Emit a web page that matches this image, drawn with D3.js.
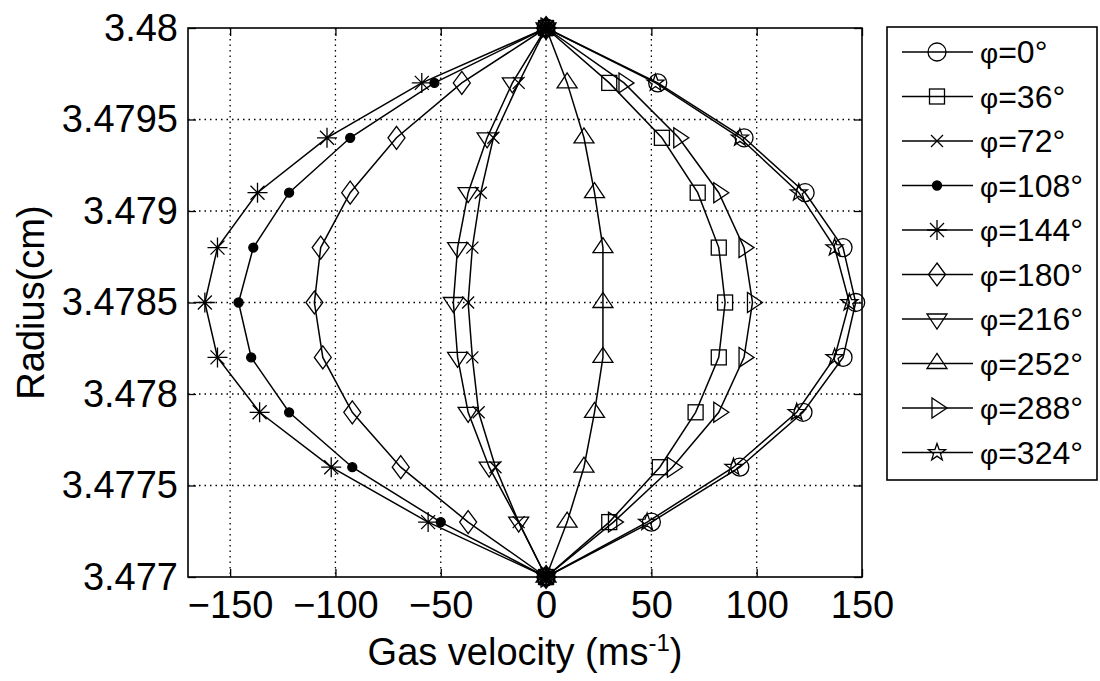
<!DOCTYPE html>
<html>
<head>
<meta charset="utf-8">
<script src="https://cdn.jsdelivr.net/npm/d3@7"></script>
<style>
  body { margin: 0; background: #fff; }
  text { font-family: "Liberation Sans", Arial, sans-serif; fill: #000; }
</style>
</head>
<body>
<div id="chart"></div>
<script>
const WIDTH = 1100;
const HEIGHT = 681;

// radios donde se midio la velocidad (de abajo hacia arriba)
const radius = [3.477, 3.4773, 3.4776, 3.4779, 3.4782, 3.4785, 3.4788, 3.4791, 3.4794, 3.4797, 3.48];

const angles = ["0", "36", "72", "108", "144", "180", "216", "252", "288", "324"];
const markers = ["circle", "square", "x", "dot", "asterisk", "diamond", "down", "up", "right", "star"];

const v0   = [0, 50, 92, 122, 141, 147, 141, 123, 94, 53, 0];
const v36  = [0, 30, 54, 71, 82, 85, 82, 72, 55, 30, 0];
const v72  = [0, -13, -24, -32, -35, -37, -35, -31, -25, -13, 0];
const v108 = [0, -50, -92, -122, -140, -146, -139, -122, -93, -53, 0];
const v144 = [0, -56, -102, -136, -156, -162, -156, -137, -104, -59, 0];
const v180 = [0, -37, -69, -92, -106, -110, -107, -93, -71, -40, 0];
const v216 = [0, -13, -27, -37, -42, -44, -42, -37, -28, -16, 0];
const v252 = [0, 10, 18, 23, 27, 27, 27, 23, 18, 10, 0];
const v288 = [0, 32, 60, 82, 94, 98, 94, 82, 63, 37, 0];
const v324 = [0, 48, 89, 119, 137, 144, 137, 120, 92, 52, 0];

const series = [v0, v36, v72, v108, v144, v180, v216, v252, v288, v324];

const xTicks = [-150, -100, -50, 0, 50, 100, 150];
const yTicks = [3.477, 3.4775, 3.478, 3.4785, 3.479, 3.4795, 3.48];
const yTickLabels = ["3.477", "3.4775", "3.478", "3.4785", "3.479", "3.4795", "3.48"];

const pLeft = 188, pRight = 862, pTop = 28, pBottom = 577;

const svg = d3.select("#chart")
    .append("svg")
    .attr("width", WIDTH)
    .attr("height", HEIGHT);

const x = d3.scaleLinear().domain([-170, 150]).range([pLeft, pRight]);
const y = d3.scaleLinear().domain([3.477, 3.48]).range([pBottom, pTop]);

// grilla punteada
const grid = svg.append("g")
    .attr("stroke", "#000")
    .attr("stroke-width", 1.3)
    .attr("stroke-dasharray", "1.5,4");

grid.selectAll(".gx")
    .data(xTicks.filter(d => x(d) < pRight - 1))
    .enter().append("line")
    .attr("x1", d => x(d)).attr("x2", d => x(d))
    .attr("y1", pTop).attr("y2", pBottom);

grid.selectAll(".gy")
    .data(yTicks.filter(d => y(d) > pTop + 1 && y(d) < pBottom - 1))
    .enter().append("line")
    .attr("x1", pLeft).attr("x2", pRight)
    .attr("y1", d => y(d)).attr("y2", d => y(d));

// ejes con ticks hacia adentro
const xAxis = svg.append("g")
    .attr("transform", `translate(0,${pBottom})`)
    .call(d3.axisBottom(x).tickValues(xTicks).tickSizeInner(-8).tickSizeOuter(0).tickPadding(12));

const yAxis = svg.append("g")
    .attr("transform", `translate(${pLeft},0)`)
    .call(d3.axisLeft(y).tickValues(yTicks)
        .tickFormat((d, i) => yTickLabels[i])
        .tickSizeInner(-8).tickSizeOuter(0).tickPadding(10));

svg.append("g")
    .attr("transform", `translate(0,${pTop})`)
    .call(d3.axisTop(x).tickValues(xTicks).tickSizeInner(-8).tickSizeOuter(0).tickFormat(""));

svg.append("g")
    .attr("transform", `translate(${pRight},0)`)
    .call(d3.axisRight(y).tickValues(yTicks).tickSizeInner(-8).tickSizeOuter(0).tickFormat(""));

svg.selectAll(".domain").remove();
svg.selectAll(".tick line").attr("stroke", "#000").attr("stroke-width", 1.3);
svg.selectAll(".tick text")
    .style("font-size", "38px")
    .attr("fill", "#000");
xAxis.selectAll(".tick text").attr("dy", "0.75em");

svg.append("rect")
    .attr("x", pLeft).attr("y", pTop)
    .attr("width", pRight - pLeft).attr("height", pBottom - pTop)
    .attr("fill", "none")
    .attr("stroke", "#000")
    .attr("stroke-width", 1.6);

// dibuja un marcador estilo matlab
function drawMarker(g, type, cx, cy) {
    const m = g.append("g").attr("transform", `translate(${cx},${cy})`)
        .attr("fill", "none").attr("stroke", "#000").attr("stroke-width", 1.3);
    if (type === "circle") {
        m.append("circle").attr("r", 9);
    } else if (type === "square") {
        m.append("rect").attr("x", -7.5).attr("y", -7.5).attr("width", 15).attr("height", 15);
    } else if (type === "x") {
        m.append("path").attr("d", "M-6,-6L6,6M-6,6L6,-6");
    } else if (type === "dot") {
        m.append("circle").attr("r", 4.5).attr("fill", "#000");
    } else if (type === "asterisk") {
        m.append("path").attr("d", "M-10,0L10,0M0,-10L0,10M-7,-7L7,7M-7,7L7,-7");
    } else if (type === "diamond") {
        m.append("path").attr("d", "M0,-11.5L8.5,0L0,11.5L-8.5,0Z");
    } else if (type === "down") {
        m.append("path").attr("d", "M-10,-5L10,-5L0,10Z");
    } else if (type === "up") {
        m.append("path").attr("d", "M-10,5L10,5L0,-10Z");
    } else if (type === "right") {
        m.append("path").attr("d", "M-5,-10L-5,10L10,0Z");
    } else if (type === "star") {
        const pts = [];
        for (let k = 0; k < 10; k++) {
            const r = k % 2 === 0 ? 9 : 3.6;
            const a = -Math.PI / 2 + k * Math.PI / 5;
            pts.push([r * Math.cos(a), r * Math.sin(a)]);
        }
        m.append("path").attr("d", "M" + pts.map(p => p.join(",")).join("L") + "Z");
    }
}

const line = d3.line()
    .x(d => x(d[0]))
    .y(d => y(d[1]));

const plot = svg.append("g");

series.forEach(function(vals, i) {
    const pts = vals.map((v, j) => [v, radius[j]]);
    const g = plot.append("g");
    g.append("path")
        .datum(pts)
        .attr("d", line)
        .attr("fill", "none")
        .attr("stroke", "#000")
        .attr("stroke-width", 1.5);
    pts.forEach(p => drawMarker(g, markers[i], x(p[0]), y(p[1])));
});

// leyenda
const legX = 887, legY = 27, legW = 210, legH = 453;
const legend = svg.append("g");
legend.append("rect")
    .attr("x", legX).attr("y", legY)
    .attr("width", legW).attr("height", legH)
    .attr("fill", "#fff")
    .attr("stroke", "#000")
    .attr("stroke-width", 1.6);

angles.forEach(function(a, i) {
    const ly = 52 + i * 44.5;
    legend.append("line")
        .attr("x1", 902).attr("x2", 973)
        .attr("y1", ly).attr("y2", ly)
        .attr("stroke", "#000").attr("stroke-width", 1.5);
    drawMarker(legend, markers[i], 937, ly);
    const t = legend.append("text")
        .attr("x", 980).attr("y", ly + 11)
        .style("font-size", "32px");
    t.append("tspan").text("φ").style("font-size", "28px");
    t.append("tspan").text("=" + a + "°");
});

// titulos de ejes
const xl = svg.append("text")
    .attr("x", (pLeft + pRight) / 2)
    .attr("y", 665)
    .attr("text-anchor", "middle")
    .style("font-size", "38px");
xl.append("tspan").text("Gas velocity (ms");
xl.append("tspan").text("-1").style("font-size", "24px").attr("dy", "-14");
xl.append("tspan").text(")").attr("dy", "14");

svg.append("text")
    .attr("transform", `translate(44,${(pTop + pBottom) / 2}) rotate(-90)`)
    .attr("text-anchor", "middle")
    .style("font-size", "38px")
    .text("Radius(cm)");
</script>
</body>
</html>
